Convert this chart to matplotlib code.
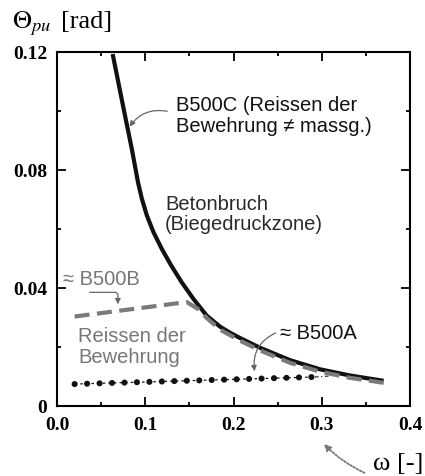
import numpy as np
import matplotlib.pyplot as plt
from matplotlib.ticker import FixedLocator

plt.rcParams['mathtext.fontset'] = 'stix'

# B500C / Betonbruch (solid black)
omega_c = [0.0631, 0.0695, 0.0771, 0.0848, 0.0918, 0.0962, 0.1019, 0.1093, 0.1188, 0.1294,
           0.1413, 0.1545, 0.1696, 0.185, 0.196, 0.2074, 0.23, 0.264, 0.298, 0.332, 0.37]
theta_c = [0.1193, 0.1097, 0.0984, 0.0871, 0.0758, 0.0702, 0.0645, 0.0589, 0.0532, 0.0476,
           0.0419, 0.0363, 0.0306, 0.0268, 0.0248, 0.0230, 0.0197, 0.0155, 0.0124, 0.0103, 0.0085]

# ~B500B (gray dashed)
omega_b = [0.02, 0.147, 0.16, 0.17, 0.185, 0.2074, 0.23, 0.264, 0.298, 0.332, 0.3705]
theta_b = [0.0303, 0.0352, 0.0328, 0.0297, 0.0258, 0.0221, 0.0188, 0.0146, 0.0116, 0.0095, 0.0078]

# ~B500A (dotted black)
omega_a = [0.02, 0.292]
theta_a = [0.0074, 0.0098]
omega_a2 = [0.292, 0.308]
theta_a2 = [0.0098, 0.0101]

x_ticks = [0.0, 0.1, 0.2, 0.3, 0.4]
x_labels = ['0.0', '0.1', '0.2', '0.3', '0.4']
y_ticks = [0, 0.04, 0.08, 0.12]
y_labels = ['0', '0.04', '0.08', '0.12']

fig = plt.figure(figsize=(4.25, 4.77), dpi=100)
ax = fig.add_axes([0.134, 0.147, 0.831, 0.742])

ax.plot(omega_c, theta_c, color='#111111', lw=3, solid_capstyle='butt', zorder=3)
ax.plot(omega_b, theta_b, color='#7a7a7a', lw=3, dashes=(3.6, 1.8), zorder=4)
ax.plot(omega_a, theta_a, color='#111111', lw=0.9, dashes=(2, 2.5), zorder=2)
ax.plot(omega_a, theta_a, color='#111111', lw=4.4, dashes=(0.01, 2.03),
        dash_capstyle='round', zorder=2)
ax.plot(omega_a2, theta_a2, color='#333333', lw=0.9, dashes=(3, 2, 1, 2), zorder=2)

ax.set_xlim(0, 0.4)
ax.set_ylim(0, 0.12)
ax.xaxis.set_major_locator(FixedLocator(x_ticks))
ax.xaxis.set_minor_locator(FixedLocator([0.05, 0.15, 0.25, 0.35]))
ax.yaxis.set_major_locator(FixedLocator(y_ticks))
ax.yaxis.set_minor_locator(FixedLocator([0.02, 0.06, 0.10]))
ax.set_xticklabels(x_labels)
ax.set_yticklabels(y_labels)
ax.tick_params(which='both', direction='in', top=True, right=True, width=1.3)
ax.tick_params(which='major', length=6.5, pad=7)
ax.tick_params(which='minor', length=3.2)
for lab in ax.get_xticklabels() + ax.get_yticklabels():
    lab.set_fontfamily('Liberation Serif')
    lab.set_fontweight('bold')
    lab.set_fontsize(14)
for s in ax.spines.values():
    s.set_linewidth(1.5)

sans = 'Liberation Sans'
fs = 14.5
ax.text(0.1348, 0.0986, 'B500C (Reissen der\nBewehrung \u2260 massg.)', fontsize=fs,
        family=sans, color='#111111', va='center', linespacing=1.1)
ax.text(0.1224, 0.0653, 'Betonbruch\n(Biegedruckzone)', fontsize=fs,
        family=sans, color='#2a2a2a', va='center', linespacing=1.1)
ax.text(0.0068, 0.0432, '\u2248 B500B', fontsize=fs, family=sans, color='#777777', va='center')
ax.text(0.0238, 0.0203, 'Reissen der\nBewehrung', fontsize=fs, family=sans,
        color='#777777', va='center', linespacing=1.1)
ax.text(0.2527, 0.0249, '\u2248 B500A', fontsize=fs, family=sans, color='#111111', va='center')

ax.annotate('', xy=(0.0805, 0.0939), xytext=(0.128, 0.0997),
            arrowprops=dict(arrowstyle='-|>', color='#666666', lw=0.9,
                            connectionstyle='arc3,rad=0.35', mutation_scale=8))
ax.annotate('', xy=(0.069, 0.0335), xytext=(0.034, 0.0385),
            arrowprops=dict(arrowstyle='-|>', color='#666666', lw=0.9,
                            connectionstyle='angle,angleA=0,angleB=90,rad=3', mutation_scale=8))
ax.annotate('', xy=(0.2244, 0.0108), xytext=(0.2504, 0.0251),
            arrowprops=dict(arrowstyle='-|>', color='#666666', lw=0.9,
                            connectionstyle='arc3,rad=0.4', mutation_scale=8))
ax.annotate('', xy=(322, 477 - 443), xytext=(367, 477 - 475), xycoords='figure pixels',
            textcoords='figure pixels', annotation_clip=False,
            arrowprops=dict(arrowstyle='-|>', color='#777777', lw=1.3, ls=(0, (1, 1)),
                            connectionstyle='arc3,rad=-0.1', mutation_scale=10))

fig.text(12 / 425, (477 - 28) / 477, r'$\Theta_{pu}$', fontsize=19, va='baseline', ha='left')
fig.text(61 / 425, (477 - 28) / 477, '[rad]', fontsize=19, family='Liberation Serif', va='baseline')
fig.text(423 / 425, (477 - 470) / 477, '\u03c9 [-]', fontsize=19,
         family='Liberation Serif', va='baseline', ha='right')

fig.savefig('out.png', dpi=100)
